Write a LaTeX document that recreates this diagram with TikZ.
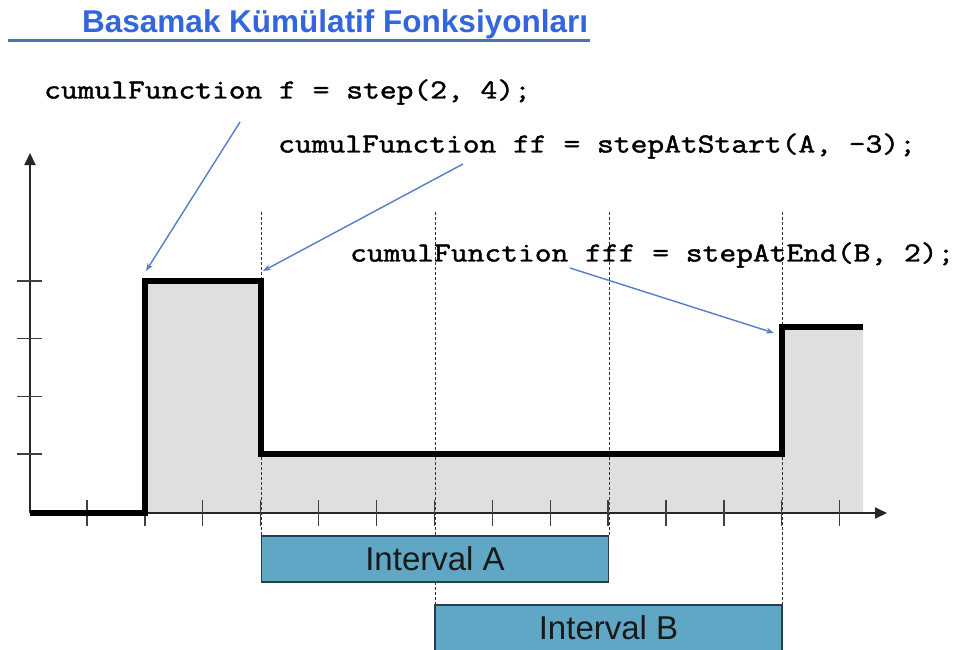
\documentclass[tikz,border=0pt]{standalone}
\usepackage{fontspec}
\setmainfont{Liberation Sans}
\newfontfamily\codefont[FakeStretch=1.185,FakeBold=1.6]{Latin Modern Mono}
\usetikzlibrary{arrows.meta}
\definecolor{titleblue}{RGB}{51,102,221}
\definecolor{lineblue}{RGB}{70,115,180}
\definecolor{arrowblue}{RGB}{85,125,200}
\definecolor{fillgray}{RGB}{223,223,223}
\definecolor{boxfill}{RGB}{95,167,197}
\definecolor{boxdraw}{RGB}{40,60,80}
\tikzset{
  codetext/.style={anchor=west, inner sep=0pt, font=\codefont\fontsize{27.5}{30}\selectfont},
  callout/.style={draw=arrowblue, line width=1.4pt, -{Stealth[length=8pt,width=6pt]}},
  axisline/.style={draw=black!85, line width=2pt, -{Triangle[length=12pt,width=11pt]}},
  tickline/.style={draw=black!75, line width=1.3pt},
  guide/.style={draw=black!80, line width=0.8pt, dash pattern=on 3pt off 2pt},
  stepline/.style={draw=black, line width=6pt, line join=miter},
  intervalbox/.style={draw=boxdraw, line width=1.2pt, fill=boxfill, minimum width=347pt, minimum height=46pt, inner sep=0pt, text=black!90, font=\fontsize{33}{36}\selectfont}
}
\begin{document}
\begin{tikzpicture}[x=1pt,y=-1pt]
\useasboundingbox (0,0) rectangle (953,650);
% title
\node[anchor=base west, inner sep=0pt, text=titleblue, font=\bfseries\fontsize{31.5}{34}\selectfont] (title) at (82,33) {Basamak Kümülatif Fonksiyonları};
\draw[lineblue, line width=3pt] (8,41) -- (590,41);
% gray area under the function
\fill[fillgray] (145,513) -- (145,281) -- (261,281) -- (261,454) -- (782,454) -- (782,327) -- (863,327) -- (863,513) -- cycle;
% dashed guides
\draw[guide] (261,212) -- (261,537);
\draw[guide] (609,212) -- (609,537);
\draw[guide] (435,212) -- (435,650);
\draw[guide] (782,212) -- (782,650);
% axes
\coordinate (origin) at (30,513);
\coordinate (ytip) at (30,153);
\coordinate (xtip) at (887,513);
\draw[axisline] (origin) -- (ytip);
\draw[axisline] (origin) -- (xtip);
\foreach \i in {0,...,13} \draw[tickline] ({87+57.9*\i},500) -- ({87+57.9*\i},526);
\foreach \y in {281,338.7,396.3,454} \draw[tickline] (17,\y) -- (42,\y);
% step function
\draw[stepline] (30,513) -- (145,513) -- (145,281) -- (261,281) -- (261,454) -- (782,454) -- (782,327) -- (863,327);
% intervals
\node[intervalbox] (ia) at (435,559) {Interval A};
\node[intervalbox] (ib) at (608.5,628) {Interval B};
% code texts
\node[codetext] (code1) at (44,92) {cumulFunction f = step(2, 4);};
\node[codetext] (code2) at (278,146) {cumulFunction ff = stepAtStart(A, -3);};
\node[codetext] (code3) at (350,255) {cumulFunction fff = stepAtEnd(B, 2);};
% callouts
\coordinate (a1s) at (240,122);
\coordinate (a1e) at (146,271);
\coordinate (a2s) at (463,164);
\coordinate (a2e) at (263,271);
\coordinate (a3s) at (570,268);
\coordinate (a3e) at (774,333);
\draw[callout] (a1s) -- (a1e);
\draw[callout] (a2s) -- (a2e);
\draw[callout] (a3s) -- (a3e);
\end{tikzpicture}
\end{document}
